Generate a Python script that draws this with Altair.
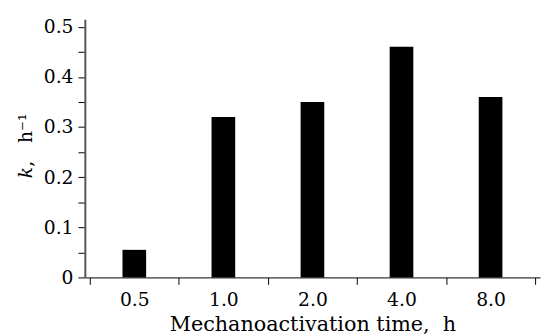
import altair as alt
import pandas as pd

categories = ["0.5", "1.0", "2.0", "4.0", "8.0"]
k_values = [0.055, 0.32, 0.35, 0.46, 0.36]
y_ticks = [round(i * 0.05, 2) for i in range(11)]

df = pd.DataFrame({
    "time": categories,
    "k": k_values,
    "pos": [i + 0.5 for i in range(len(categories))],
})

x_vals = [i * 0.5 for i in range(2 * len(categories) + 1)]
label_arr = "[" + ",".join("'" + c + "'" for c in categories) + "]"

FONT = "DejaVu Serif"

chart = alt.Chart(df).mark_bar(color="black", size=24).encode(
    x=alt.X(
        "pos:Q",
        scale=alt.Scale(domain=[0, len(categories)], nice=False, zero=False),
        axis=alt.Axis(
            values=x_vals,
            title="Mechanoactivation time,\u00a0 h",
            labelExpr=f"datum.value % 1 == 0 ? '' : {label_arr}[floor(datum.value)]",
            tickOpacity={"condition": {"test": "datum.value % 1 == 0", "value": 1}, "value": 0},
            tickSize=7,
            tickColor="black",
            domainColor="black",
            domainWidth=1,
            labelPadding=7,
            titlePadding=4,
            labelOverlap=False,
            labelFlush=False,
            grid=False,
            labelFont=FONT,
            titleFont=FONT,
            labelFontSize=19,
            titleFontSize=21,
            titleFontWeight="normal",
            labelColor="black",
            titleColor="black",
        ),
    ),
    y=alt.Y(
        "k:Q",
        scale=alt.Scale(domain=[0, 0.515], nice=False),
        axis=alt.Axis(
            values=y_ticks,
            title="𝑘,\u00a0\u00a0 h⁻¹",
            labelExpr="round(datum.value*20) % 2 == 0 ? (datum.value == 0 ? '0' : format(datum.value, '.1f')) : ''",
            tickSize=7,
            tickColor="black",
            domainColor="#555",
            domainWidth=2,
            labelPadding=5,
            labelOverlap=False,
            labelFlush=False,
            grid=False,
            labelFont=FONT,
            titleFont=FONT,
            labelFontSize=19,
            titleFontSize=19,
            titleFontWeight="normal",
            labelColor="black",
            titleColor="black",
            titleX=-60,
            titleY=128,
            titleAngle=270,
            titleAlign="center",
            titleBaseline="middle",
        ),
    ),
).properties(
    width=462,
    height=262,
    autosize=alt.AutoSizeParams(type="none"),
    padding={"left": 78, "top": 9, "right": 2, "bottom": 57},
).configure_view(stroke=None)

chart.save("out.html", embed_options={"renderer": "svg", "actions": False})
